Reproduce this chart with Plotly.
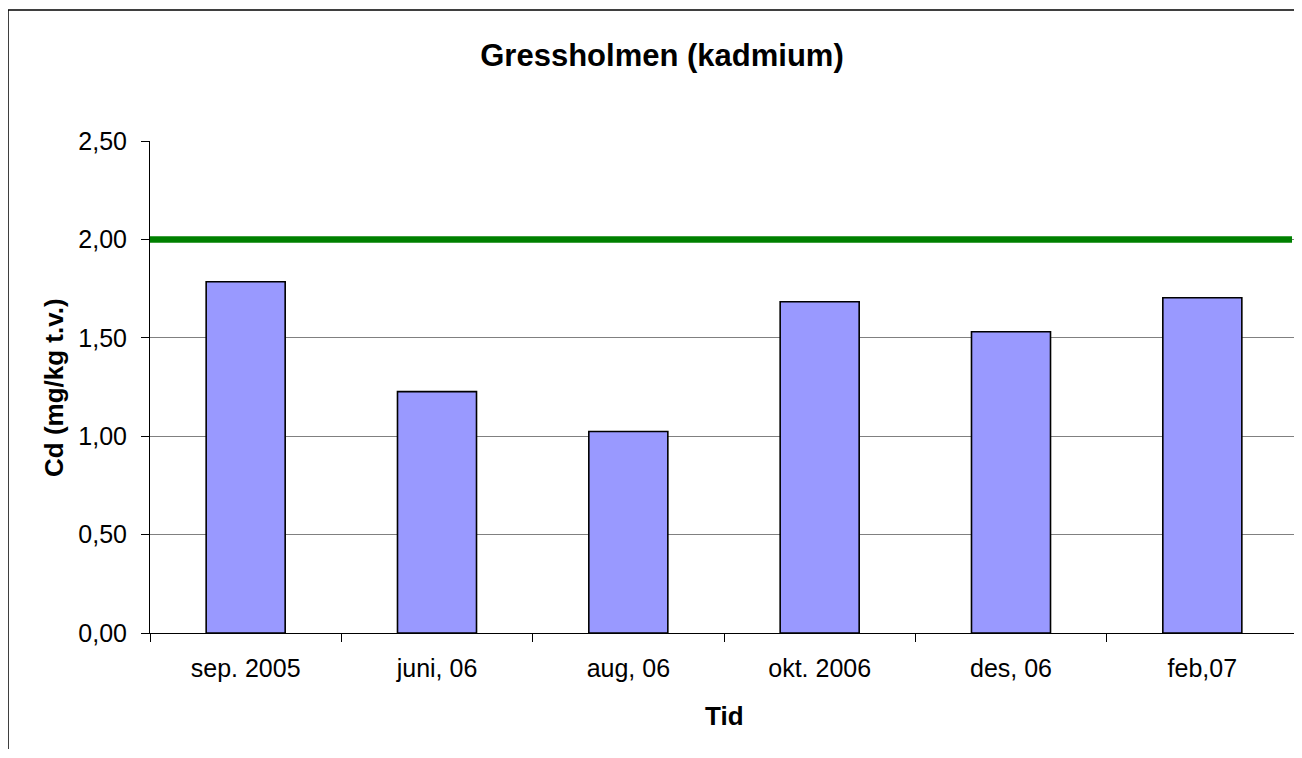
import plotly.graph_objects as go

categories = ["sep. 2005", "juni, 06", "aug, 06", "okt. 2006", "des, 06", "feb,07"]
cd_values = [1.785, 1.227, 1.024, 1.684, 1.531, 1.704]
limit_value = 2.00
y_ticks = [0.0, 0.5, 1.0, 1.5, 2.0, 2.5]

W, H = 1294, 741
L, R, T, B = 142, 4, 133, 116
PW, PH = W - L - R, H - T - B

fig = go.Figure()
fig.add_trace(go.Bar(
    x=categories, y=cd_values,
    marker=dict(color="#9999FF", line=dict(color="black", width=1.6)),
    width=0.413,
))
# limit line on overlaying axis
fig.add_trace(go.Scatter(
    x=[0, 0.9948], y=[limit_value, limit_value], xaxis="x2",
    mode="lines", line=dict(color="#008000", width=6.5), hoverinfo="skip",
))

fig.update_layout(
    width=W, height=H,
    margin=dict(l=L, r=R, t=T, b=B),
    paper_bgcolor="white", plot_bgcolor="white",
    showlegend=False,
    separators=", ",
    font=dict(family="Arial, Liberation Sans, sans-serif", size=25, color="black"),
    title=dict(text="<b>Gressholmen (kadmium)</b>", x=654 / W, xanchor="center",
               y=1 - 47 / H, yanchor="middle", font=dict(size=31)),
    xaxis=dict(
        showline=True, linecolor="black", linewidth=1,
        ticks="outside", tickson="boundaries", ticklen=8, tickcolor="black",
        tickfont=dict(size=25), ticklabelstandoff=13,
    ),
    xaxis2=dict(overlaying="x", range=[0, 1], visible=False),
    yaxis=dict(
        range=[0, 2.5008], tickvals=y_ticks, tickformat=".2f",
        showline=True, linecolor="black", linewidth=1,
        ticks="outside", ticklen=8, tickcolor="black",
        showgrid=True, gridcolor="#808080", gridwidth=1,
        zeroline=False,
        tickfont=dict(size=25), ticklabelstandoff=9,
    ),
    annotations=[
        dict(text="<b>Tid</b>", xref="paper", yref="paper", x=0.5,
             y=(PH - (707.5 - T)) / PH, xanchor="center", yanchor="middle",
             showarrow=False, font=dict(size=26)),
        dict(text="<b>Cd (mg/kg t.v.)</b>", xref="paper", yref="paper",
             x=(46 - L) / PW, y=0.5, xanchor="center", yanchor="middle",
             textangle=-90, showarrow=False, font=dict(size=26)),
    ],
    shapes=[dict(type="rect", xref="paper", yref="paper",
                 x0=-L / PW, x1=1.2, y0=-0.5, y1=(PH + T - 2) / PH,
                 line=dict(color="black", width=1.5), layer="below")],
)

fig.write_html("out.html")
